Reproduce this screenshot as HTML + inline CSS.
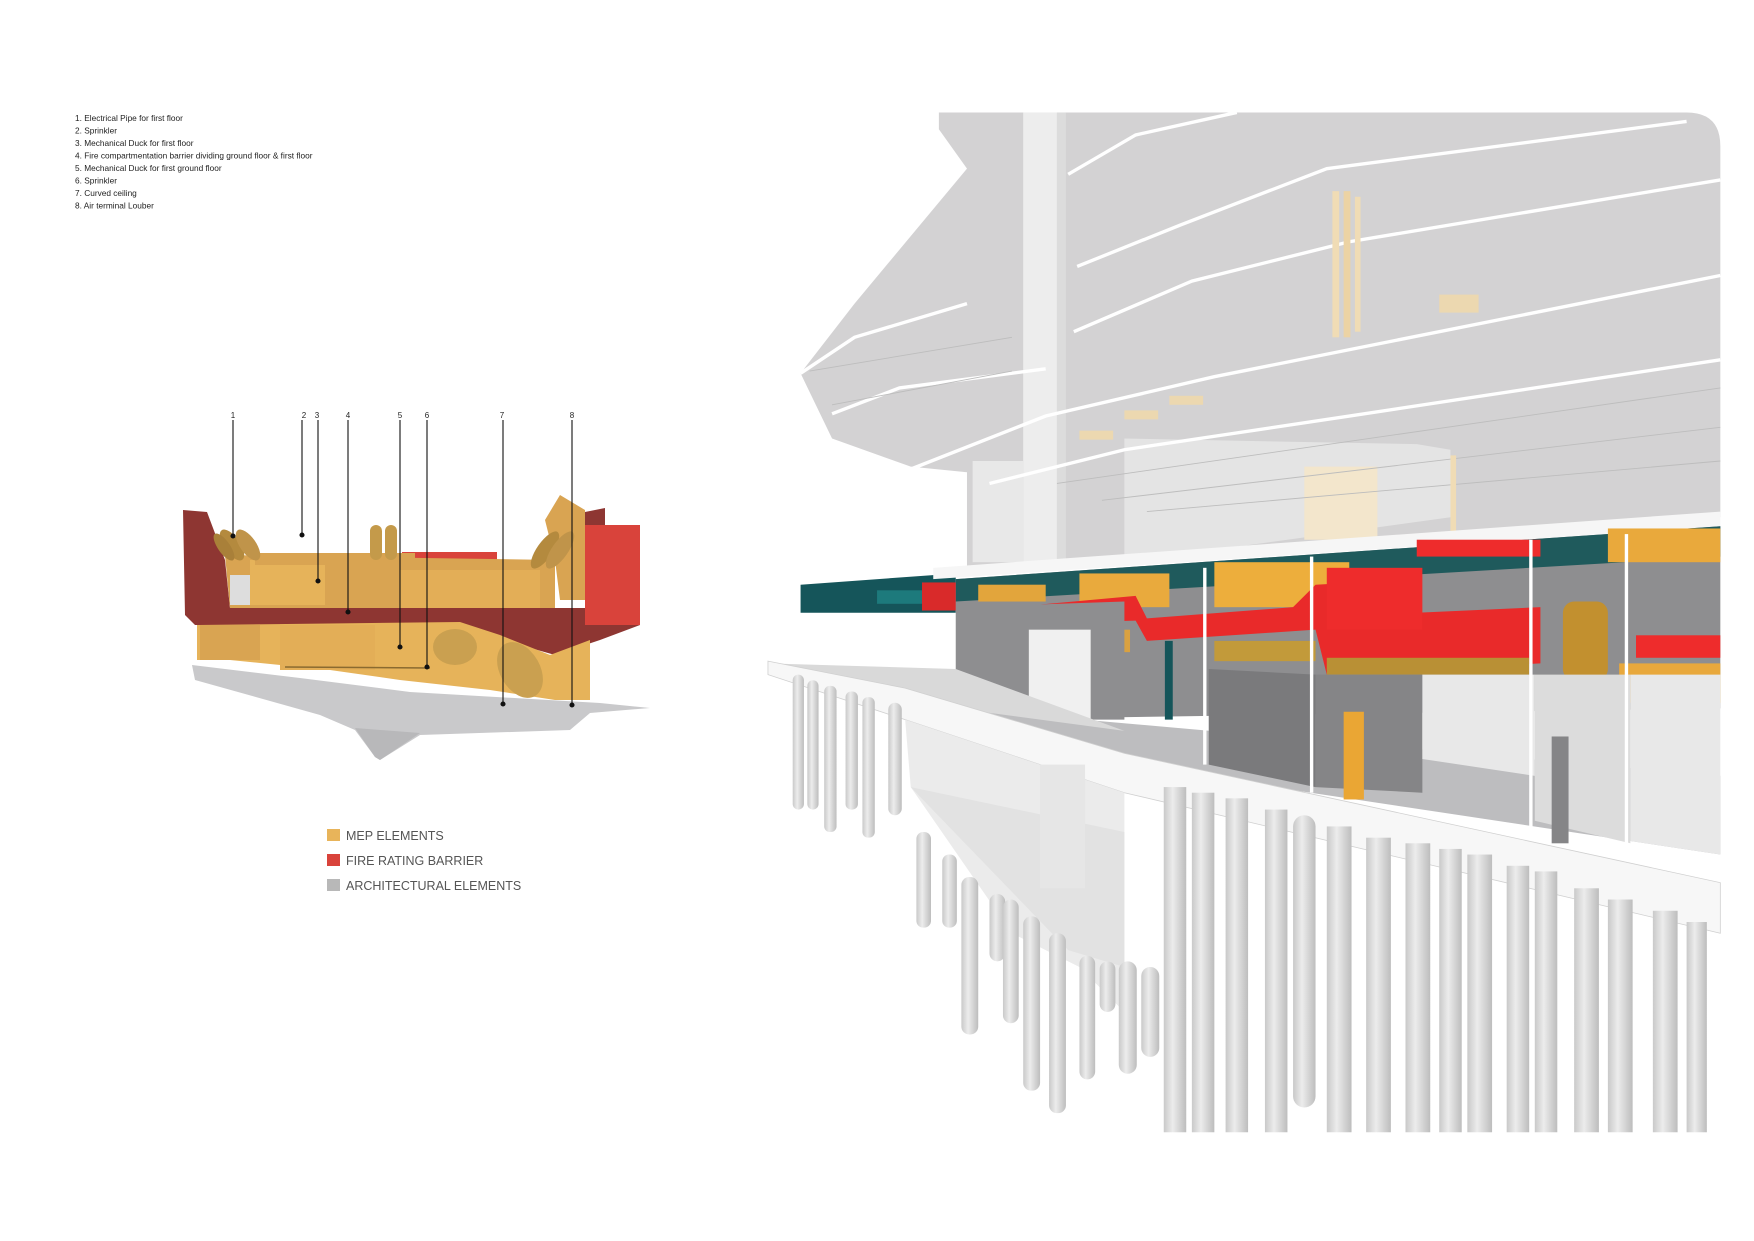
<!DOCTYPE html>
<html><head><meta charset="utf-8"><style>
html,body{margin:0;padding:0;background:#fff}
svg{display:block}
</style></head><body>
<svg width="1754" height="1241" viewBox="0 0 1754 1241" xmlns="http://www.w3.org/2000/svg" font-family="Liberation Sans, sans-serif">
<defs>
<linearGradient id="col" x1="0" x2="1" y1="0" y2="0">
<stop offset="0" stop-color="#c9c9c9"/><stop offset="0.4" stop-color="#ececec"/><stop offset="1" stop-color="#bdbdbd"/>
</linearGradient>
</defs>
<rect width="1754" height="1241" fill="#fff"/>

<g font-size="8.3" fill="#222">
<text x="75" y="121">1. Electrical Pipe for first floor</text>
<text x="75" y="133.5">2. Sprinkler</text>
<text x="75" y="146">3. Mechanical Duck for first floor</text>
<text x="75" y="158.5">4. Fire compartmentation barrier dividing ground floor &amp; first floor</text>
<text x="75" y="171">5. Mechanical Duck for first ground floor</text>
<text x="75" y="183.5">6. Sprinkler</text>
<text x="75" y="196">7. Curved ceiling</text>
<text x="75" y="208.5">8. Air terminal Louber</text>
</g>

<g>
<polygon points="192,665 300,678 410,692 600,703 650,708 590,713 570,730 420,735 380,760 375,757 355,730 320,715 195,680" fill="#c9c9cb"/>
<polygon points="355,728 420,733 380,760 375,757" fill="#b8b8ba"/>
<polygon points="183,510 207,512 225,560 230,608 585,608 585,512 605,508 605,525 640,525 640,625 600,640 555,655 460,628 230,625 195,625 185,615" fill="#8e3632"/>
<rect x="585" y="525" width="55" height="100" fill="#d9433b"/>
<rect x="402" y="552" width="95" height="40" fill="#d9433b"/>
<rect x="330" y="585" width="90" height="22" fill="#d9433b"/>
<polygon points="225,555 555,560 555,608 230,608" fill="#d9a452"/>
<rect x="230" y="575" width="25" height="30" fill="#ddd"/>
<rect x="250" y="560" width="75" height="45" fill="#e6b35a"/>
<rect x="400" y="570" width="140" height="38" fill="#e3ae57"/>
<rect x="255" y="553" width="160" height="12" fill="#d9a452"/>
<ellipse cx="232" cy="545" rx="8" ry="18" fill="#b48a3e" transform="rotate(-35 232 545)"/>
<ellipse cx="248" cy="545" rx="8" ry="18" fill="#c0944a" transform="rotate(-35 248 545)"/>
<ellipse cx="224" cy="547" rx="6" ry="16" fill="#a98039" transform="rotate(-35 224 547)"/>
<rect x="370" y="525" width="12" height="35" rx="6" fill="#c49a4a"/>
<rect x="385" y="525" width="12" height="35" rx="6" fill="#c49a4a"/>
<polygon points="545,520 560,495 585,510 585,600 560,600 555,560" fill="#d9a452"/>
<ellipse cx="545" cy="550" rx="8" ry="22" fill="#b48a3e" transform="rotate(35 545 550)"/>
<ellipse cx="560" cy="550" rx="8" ry="22" fill="#c0944a" transform="rotate(35 560 550)"/>
<polygon points="197,625 460,622 500,635 550,655 590,640 590,700 555,700 490,690 400,680 330,670 230,660 197,660" fill="#e6b35a"/>
<rect x="200" y="625" width="60" height="35" fill="#d9a452"/>
<rect x="280" y="625" width="95" height="45" fill="#e3ae57"/>
<ellipse cx="455" cy="647" rx="22" ry="18" fill="#caa050"/>
<ellipse cx="520" cy="670" rx="20" ry="30" fill="#caa050" transform="rotate(-30 520 670)"/>
<line x1="285" y1="667" x2="430" y2="668" stroke="#8a6a30" stroke-width="1.5"/>
</g>
<g stroke="#111" stroke-width="1.1" fill="#111">
<line x1="233" y1="420" x2="233" y2="536"/><circle cx="233" cy="536" r="2"/>
<line x1="302" y1="420" x2="302" y2="535"/><circle cx="302" cy="535" r="2"/>
<line x1="318" y1="420" x2="318" y2="581"/><circle cx="318" cy="581" r="2"/>
<line x1="348" y1="420" x2="348" y2="612"/><circle cx="348" cy="612" r="2"/>
<line x1="400" y1="420" x2="400" y2="647"/><circle cx="400" cy="647" r="2"/>
<line x1="427" y1="420" x2="427" y2="667"/><circle cx="427" cy="667" r="2"/>
<line x1="503" y1="420" x2="503" y2="704"/><circle cx="503" cy="704" r="2"/>
<line x1="572" y1="420" x2="572" y2="705"/><circle cx="572" cy="705" r="2"/>
</g>
<g font-size="8" fill="#222" text-anchor="middle">
<text x="233" y="418">1</text><text x="304" y="418">2</text><text x="317" y="418">3</text><text x="348" y="418">4</text>
<text x="400" y="418">5</text><text x="427" y="418">6</text><text x="502" y="418">7</text><text x="572" y="418">8</text>
</g>
<rect x="327" y="829" width="13" height="12" fill="#e8b45a"/>
<rect x="327" y="854" width="13" height="12" fill="#d9433b"/>
<rect x="327" y="879" width="13" height="12" fill="#b8b8b8"/>
<g font-size="12.5" fill="#555">
<text x="346" y="840">MEP ELEMENTS</text>
<text x="346" y="865">FIRE RATING BARRIER</text>
<text x="346" y="890">ARCHITECTURAL ELEMENTS</text>
</g>

<g transform="scale(1.1244)">
<path d="M835,100 L1500,100 Q1530,100 1530,130 L1530,460 L1000,500 L860,505 L860,420 L810,415 L740,390 L712,332 L760,270 L860,150 L835,115 Z" fill="#d3d2d3"/>
<rect x="910" y="100" width="30" height="400" fill="#ededed"/>
<rect x="940" y="100" width="8" height="400" fill="#dcdcdc"/>
<polygon points="1000,390 1260,395 1290,400 1290,460 1000,500" fill="#e4e4e4"/>
<rect x="1160" y="415" width="65" height="65" fill="#f3e6cc"/>
<rect x="865" y="410" width="45" height="90" fill="#e8e8e8"/>
<g stroke="#fff" stroke-width="3" fill="none">
<polyline points="950,155 1010,120 1100,100"/>
<polyline points="958,237 1050,200 1180,150 1500,108"/>
<polyline points="955,295 1060,250 1200,215 1530,160"/>
<polyline points="712,332 760,300 860,270"/>
<polyline points="740,368 800,345 930,328"/>
<polyline points="808,418 930,370 1080,335 1530,245"/>
<polyline points="880,430 1000,400 1200,370 1530,320"/>
</g>
<g stroke="#bdbdbd" stroke-width="0.8" fill="none">
<polyline points="940,430 1530,345"/><polyline points="980,445 1530,380"/><polyline points="1020,455 1530,410"/>
<polyline points="720,330 900,300"/><polyline points="740,360 900,330"/>
</g>
<rect x="1185" y="170" width="6" height="130" fill="#f0dcb5"/>
<rect x="1195" y="170" width="6" height="130" fill="#ecd3a4"/>
<rect x="1205" y="175" width="5" height="120" fill="#f0dcb5"/>
<rect x="1280" y="262" width="35" height="16" fill="#ecd8b0"/>
<rect x="1000" y="365" width="30" height="8" fill="#ecd8b0"/>
<rect x="1040" y="352" width="30" height="8" fill="#ecd8b0"/>
<rect x="960" y="383" width="30" height="8" fill="#ecd8b0"/>
<rect x="1290" y="405" width="5" height="70" fill="#f0dcb5"/>

<polygon points="712,520 850,510 850,545 712,545" fill="#15555a"/>
<rect x="780" y="525" width="60" height="12" fill="#1d7a7c"/>
<polygon points="830,505 1530,455 1530,468 830,515" fill="#f6f6f6"/>
<polygon points="850,515 1530,468 1530,630 850,640" fill="#8e8e90"/>
<polygon points="850,515 1530,468 1530,495 850,535" fill="#1f5a5c"/>
<rect x="820" y="518" width="30" height="25" fill="#d92a2a"/>
<rect x="870" y="520" width="60" height="15" fill="#e2a53c"/>
<rect x="960" y="510" width="80" height="30" fill="#e9aa3d"/>
<rect x="1080" y="500" width="120" height="40" fill="#edae3c"/>
<polygon points="900,540 1010,530 1020,550 1150,540 1170,520 1260,515 1260,545 1370,540 1370,590 1180,600 1170,560 1020,570 1010,552 900,555" fill="#e92a2a"/>
<rect x="1180" y="505" width="85" height="55" fill="#ee2c2c"/>
<rect x="1260" y="480" width="110" height="15" fill="#ee2c2c"/>
<rect x="1430" y="470" width="100" height="30" fill="#e9a93c"/>
<rect x="1390" y="535" width="40" height="70" rx="10" fill="#c2902f"/>
<rect x="1455" y="565" width="75" height="20" fill="#ee2c2c"/>
<rect x="1440" y="590" width="90" height="35" fill="#e8a83c"/>
<rect x="1080" y="570" width="90" height="18" fill="#c29a3a"/>
<rect x="1180" y="585" width="180" height="15" fill="#b99035"/>
<rect x="990" y="560" width="15" height="20" fill="#d9a140"/>
<rect x="1036" y="570" width="7" height="70" fill="#15555a"/>

<polygon points="855,540 1000,535 1000,640 855,640" fill="#8e8e90"/>
<rect x="915" y="560" width="55" height="85" fill="#f0f0f0"/>
<polygon points="850,630 1530,690 1530,760 1000,680 850,635" fill="#bdbdbf"/>
<polygon points="1075,595 1170,600 1170,700 1075,680" fill="#7a7a7c"/>
<polygon points="1170,600 1265,600 1265,705 1170,700" fill="#858587"/>
<polygon points="1265,600 1365,600 1365,690 1265,675" fill="#e8e8e8"/>
<polygon points="1365,600 1450,600 1450,750 1365,730" fill="#dcdcdc"/>
<polygon points="1450,600 1530,600 1530,760 1450,748" fill="#e8e8e8"/>
<rect x="1380" y="655" width="15" height="95" fill="#858587"/>
<rect x="1195" y="633" width="18" height="78" fill="#eaa634"/>
<rect x="1070" y="505" width="3" height="175" fill="#fff"/>
<rect x="1165" y="495" width="3" height="210" fill="#fff"/>
<rect x="1360" y="480" width="3" height="265" fill="#fff"/>
<rect x="1445" y="475" width="3" height="290" fill="#fff"/>
<polygon points="683,590 850,595 1000,650 850,630" fill="#d9d9d9"/>
<polygon points="683,588 805,612 1000,670 1530,785 1530,830 1000,705 805,640 683,600" fill="#f7f7f7" stroke="#d0d0d0" stroke-width="0.7"/>
<polygon points="805,640 1000,705 1000,900 960,860 900,830 810,700" fill="#ebebeb"/>
<polygon points="810,700 1000,740 1000,860 950,845" fill="#e2e2e2"/>
<rect x="925" y="680" width="40" height="110" fill="#e6e6e6"/>
<g fill="url(#col)">
<rect x="705" y="600" width="10" height="120" rx="5"/><rect x="718" y="605" width="10" height="115" rx="5"/>
<rect x="733" y="610" width="11" height="130" rx="5"/><rect x="752" y="615" width="11" height="105" rx="5"/>
<rect x="767" y="620" width="11" height="125" rx="5"/><rect x="790" y="625" width="12" height="100" rx="6"/>
<rect x="815" y="740" width="13" height="85" rx="6"/><rect x="838" y="760" width="13" height="65" rx="6"/>
<rect x="855" y="780" width="15" height="140" rx="7"/><rect x="880" y="795" width="14" height="60" rx="7"/>
<rect x="892" y="800" width="14" height="110" rx="7"/><rect x="910" y="815" width="15" height="155" rx="7"/>
<rect x="933" y="830" width="15" height="160" rx="7"/><rect x="960" y="850" width="14" height="110" rx="7"/>
<rect x="978" y="855" width="14" height="45" rx="7"/><rect x="995" y="855" width="16" height="100" rx="8"/>
<rect x="1015" y="860" width="16" height="80" rx="8"/>
<rect x="1035" y="700" width="20" height="307"/><rect x="1060" y="705" width="20" height="302"/>
<rect x="1090" y="710" width="20" height="297"/><rect x="1125" y="720" width="20" height="287"/>
<rect x="1150" y="725" width="20" height="260" rx="10"/><rect x="1180" y="735" width="22" height="272"/>
<rect x="1215" y="745" width="22" height="262"/><rect x="1250" y="750" width="22" height="257"/>
<rect x="1280" y="755" width="20" height="252"/><rect x="1305" y="760" width="22" height="247"/>
<rect x="1340" y="770" width="20" height="237"/><rect x="1365" y="775" width="20" height="232"/>
<rect x="1400" y="790" width="22" height="217"/><rect x="1430" y="800" width="22" height="207"/>
<rect x="1470" y="810" width="22" height="197"/><rect x="1500" y="820" width="18" height="187"/>
</g>
</g>
</svg>
</body></html>
